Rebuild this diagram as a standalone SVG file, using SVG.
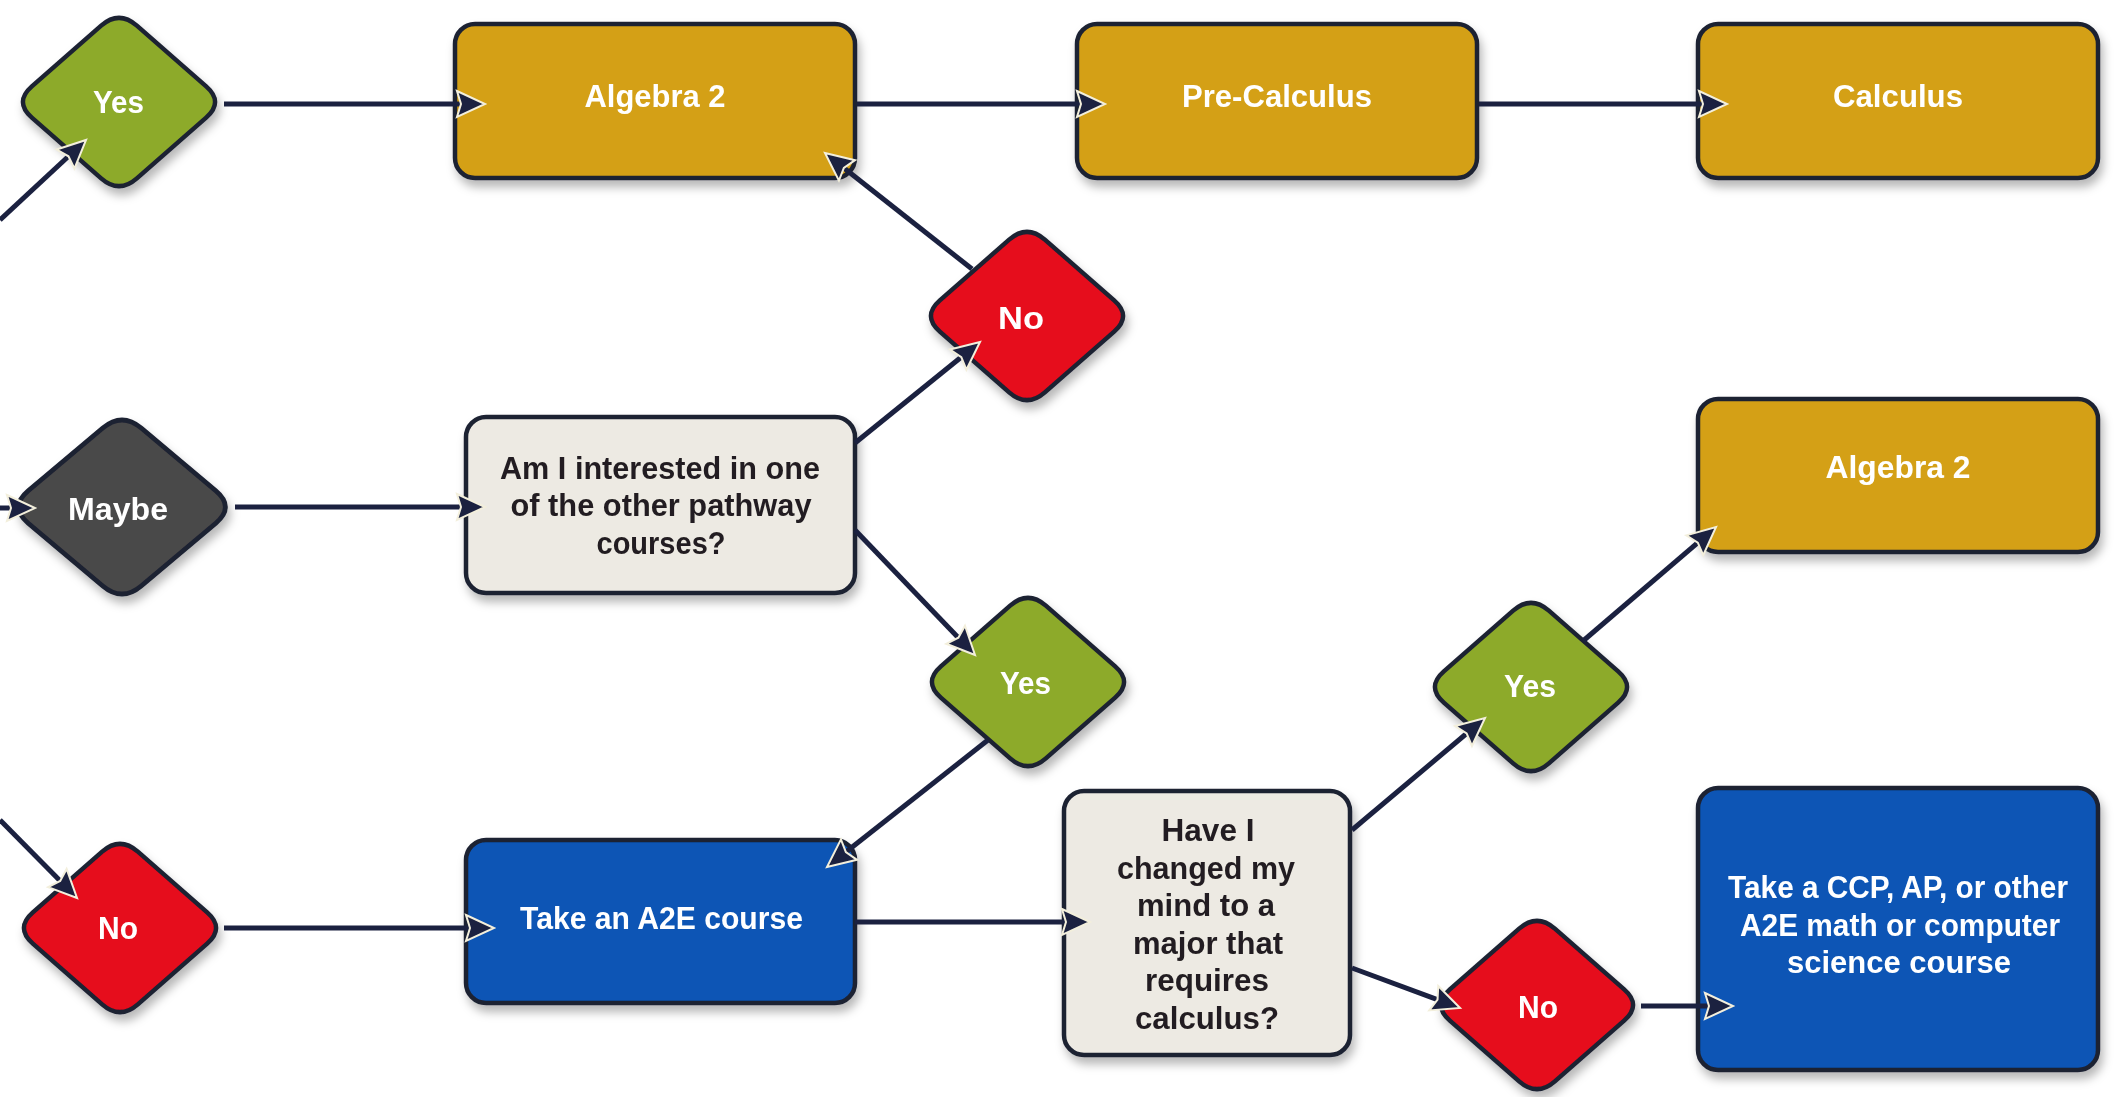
<svg xmlns="http://www.w3.org/2000/svg" width="2119" height="1097" viewBox="0 0 2119 1097">
<style>
.box{stroke:#1d2233;stroke-width:4.5}
.dia{stroke:#1d2233;stroke-width:4.5}
.gold{fill:#D4A016}
.green{fill:#8DAA2B}
.red{fill:#E60A1E}
.gray{fill:#4A4848}
.blue{fill:#0A55B5}
.beige{fill:#EDEAE3}
.lbl{font-family:"Liberation Sans",Arial,sans-serif;font-weight:bold;font-size:32px;text-anchor:middle}
.w{fill:#ffffff}
.d{fill:#231f20}
.con{stroke:#1b2140;stroke-width:5;fill:none;marker-end:url(#ah)}
</style>
<defs>
<filter id="sh" x="-20%" y="-20%" width="140%" height="150%">
<feDropShadow dx="3" dy="7" stdDeviation="5" flood-color="#000" flood-opacity="0.28"/>
</filter>
<path id="dpath" d="M-17.85,-76.36 Q0,-92 17.85,-76.36 L87.15,-15.64 Q105,0 87.15,15.64 L17.85,76.36 Q0,92 -17.85,76.36 L-87.15,15.64 Q-105,0 -87.15,-15.64 Z"/>
<marker id="ah" markerUnits="userSpaceOnUse" markerWidth="40" markerHeight="40" viewBox="-4 -18 40 36" refX="14" refY="0" orient="auto">
<path d="M0,-13 L28,0 L0,13 L4,0 Z" fill="#1b2140" stroke="#f3efdc" stroke-width="2" stroke-linejoin="miter"/>
</marker>
</defs>
<rect width="2119" height="1097" fill="#ffffff"/>

<g id="yes-top" filter="url(#sh)">
<use href="#dpath" class="dia green" transform="translate(119,102)"/>
<text class="lbl w" x="118.5" y="113" textLength="51" lengthAdjust="spacingAndGlyphs">Yes</text>
</g>
<g id="maybe" filter="url(#sh)">
<use href="#dpath" class="dia gray" transform="translate(122,507) scale(1.076,1.033)"/>
<text class="lbl w" x="118" y="520" textLength="100" lengthAdjust="spacingAndGlyphs">Maybe</text>
</g>
<g id="no-left" filter="url(#sh)">
<use href="#dpath" class="dia red" transform="translate(120,928)"/>
<text class="lbl w" x="118" y="939" textLength="40" lengthAdjust="spacingAndGlyphs">No</text>
</g>
<g id="algebra2-top" filter="url(#sh)">
<rect class="box gold" x="455" y="24" width="400" height="154" rx="20"/>
<text class="lbl w" x="655" y="107" textLength="141" lengthAdjust="spacingAndGlyphs">Algebra 2</text>
</g>
<g id="precalculus" filter="url(#sh)">
<rect class="box gold" x="1077" y="24" width="400" height="154" rx="20"/>
<text class="lbl w" x="1277" y="107" textLength="190" lengthAdjust="spacingAndGlyphs">Pre-Calculus</text>
</g>
<g id="calculus" filter="url(#sh)">
<rect class="box gold" x="1698" y="24" width="400" height="154" rx="20"/>
<text class="lbl w" x="1898" y="107" textLength="130" lengthAdjust="spacingAndGlyphs">Calculus</text>
</g>
<g id="no-upper" filter="url(#sh)">
<use href="#dpath" class="dia red" transform="translate(1027,316)"/>
<text class="lbl w" x="1021" y="329" textLength="46" lengthAdjust="spacingAndGlyphs">No</text>
</g>
<g id="interested" filter="url(#sh)">
<rect class="box beige" x="466" y="417" width="389" height="176" rx="20"/>
<text class="lbl d" x="660" y="479" textLength="320" lengthAdjust="spacingAndGlyphs">Am I interested in one</text>
<text class="lbl d" x="661" y="516" textLength="301" lengthAdjust="spacingAndGlyphs">of the other pathway</text>
<text class="lbl d" x="661" y="554" textLength="129" lengthAdjust="spacingAndGlyphs">courses?</text>
</g>
<g id="yes-mid" filter="url(#sh)">
<use href="#dpath" class="dia green" transform="translate(1028,682)"/>
<text class="lbl w" x="1025.5" y="694" textLength="51" lengthAdjust="spacingAndGlyphs">Yes</text>
</g>
<g id="take-a2e" filter="url(#sh)">
<rect class="box blue" x="466" y="840" width="389" height="163" rx="20"/>
<text class="lbl w" x="661.5" y="929" textLength="283" lengthAdjust="spacingAndGlyphs">Take an A2E course</text>
</g>
<g id="changed-mind" filter="url(#sh)">
<rect class="box beige" x="1064" y="791" width="286" height="264" rx="20"/>
<text class="lbl d" x="1208" y="841" textLength="93" lengthAdjust="spacingAndGlyphs">Have I</text>
<text class="lbl d" x="1206" y="879" textLength="178" lengthAdjust="spacingAndGlyphs">changed my</text>
<text class="lbl d" x="1206" y="916" textLength="138" lengthAdjust="spacingAndGlyphs">mind to a</text>
<text class="lbl d" x="1208" y="954" textLength="150" lengthAdjust="spacingAndGlyphs">major that</text>
<text class="lbl d" x="1207" y="991" textLength="124" lengthAdjust="spacingAndGlyphs">requires</text>
<text class="lbl d" x="1207" y="1029" textLength="144" lengthAdjust="spacingAndGlyphs">calculus?</text>
</g>
<g id="yes-right" filter="url(#sh)">
<use href="#dpath" class="dia green" transform="translate(1531,687)"/>
<text class="lbl w" x="1530" y="697" textLength="52" lengthAdjust="spacingAndGlyphs">Yes</text>
</g>
<g id="algebra2-right" filter="url(#sh)">
<rect class="box gold" x="1698" y="399" width="400" height="153" rx="20"/>
<text class="lbl w" x="1898" y="478" textLength="145" lengthAdjust="spacingAndGlyphs">Algebra 2</text>
</g>
<g id="no-right" filter="url(#sh)">
<use href="#dpath" class="dia red" transform="translate(1537,1005)"/>
<text class="lbl w" x="1538" y="1018" textLength="40" lengthAdjust="spacingAndGlyphs">No</text>
</g>
<g id="ccp" filter="url(#sh)">
<rect class="box blue" x="1698" y="788" width="400" height="282" rx="20"/>
<text class="lbl w" x="1898" y="898" textLength="340" lengthAdjust="spacingAndGlyphs">Take a CCP, AP, or other</text>
<text class="lbl w" x="1900" y="936" textLength="320" lengthAdjust="spacingAndGlyphs">A2E math or computer</text>
<text class="lbl w" x="1899" y="973" textLength="224" lengthAdjust="spacingAndGlyphs">science course</text>
</g>

<g id="connectors">
<path class="con" d="M0,220 L75.8,149.5"/>
<path class="con" d="M224,104 L471,104"/>
<path class="con" d="M857,104 L1091,104"/>
<path class="con" d="M1479,104 L1713,104"/>
<path class="con" d="M972,269 L836,161.7"/>
<path class="con" d="M0,508 L21,508"/>
<path class="con" d="M235,507 L471,507"/>
<path class="con" d="M855,443 L969.1,350.8"/>
<path class="con" d="M855,530 L965.3,644.9"/>
<path class="con" d="M988,740 L838,858.3"/>
<path class="con" d="M0,820 L67.2,888"/>
<path class="con" d="M224,928 L480,928"/>
<path class="con" d="M855,922 L1076,922"/>
<path class="con" d="M1352,830 L1474.3,727"/>
<path class="con" d="M1583,641 L1705.4,536.1"/>
<path class="con" d="M1352,968 L1446.9,1003.1"/>
<path class="con" d="M1641,1006 L1719,1006"/>
</g>
</svg>
